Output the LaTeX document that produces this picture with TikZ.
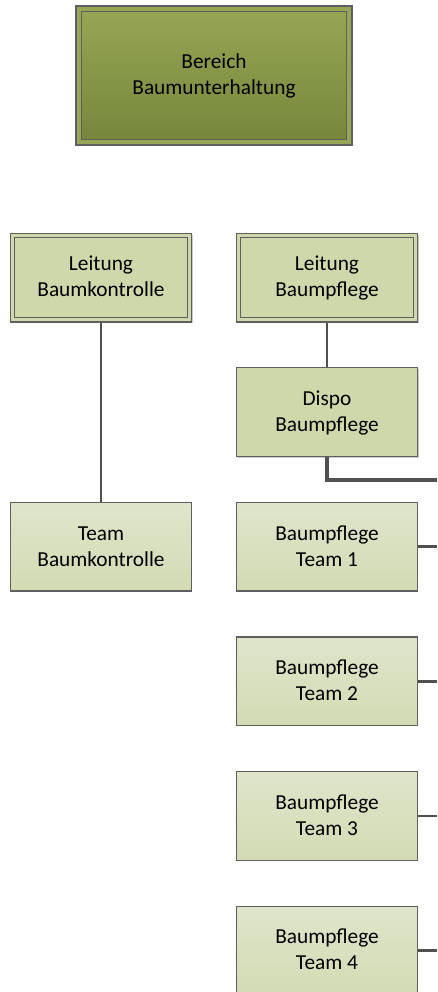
\documentclass[tikz,border=0pt]{standalone}
\usepackage{fontspec}
\setmainfont{Carlito}
\usetikzlibrary{positioning, shadows}
\definecolor{oliveTop}{RGB}{150,166,84}
\definecolor{oliveBot}{RGB}{118,135,60}
\definecolor{leitFill}{RGB}{207,216,170}
\definecolor{teamTop}{RGB}{223,229,202}
\definecolor{teamBot}{RGB}{211,219,180}
\definecolor{frame}{RGB}{95,95,95}
\definecolor{wire}{RGB}{80,80,80}
\tikzset{
	unit/.style={rectangle, draw=frame, line width=1pt, minimum width=135.5pt, minimum height=66.5pt, align=center, inner sep=0pt, font=\fontsize{16}{19.5}\selectfont, execute at begin node=\rule{0pt}{35pt}, execute at end node=\strut},
	headbox/.style={unit, minimum width=203pt, minimum height=100.25pt, top color=oliveTop, bottom color=oliveBot, drop shadow={shadow xshift=2.5pt, shadow yshift=-2.5pt, fill=black!12, opacity=1}, double=oliveTop, double distance=3pt},
	leitbox/.style={unit, fill=leitFill, drop shadow={shadow xshift=1pt, shadow yshift=-1pt, fill=black!20, opacity=1}},
	teambox/.style={unit, top color=teamTop, bottom color=teamBot},
	link/.style={draw=wire, line width=1.5pt},
	busline/.style={draw=wire, line width=2.4pt}
}
\begin{document}
\begin{tikzpicture}[x=0.75pt, y=-0.75pt, node distance=33.45pt and 33pt]
		\useasboundingbox (0,0) rectangle (437,992);
		
		\node[headbox] (bereich) at (214,75.5) {Bereich\\Baumunterhaltung};
		
		\node[leitbox] (lbk) at (101,277.5) {Leitung\\Baumkontrolle};
		\draw[frame, line width=0.8pt] ([shift={(3.5pt,-3.5pt)}]lbk.north west) rectangle ([shift={(-3.5pt,3.5pt)}]lbk.south east);
		
		\node[leitbox, right = of lbk] (lpf) {Leitung\\Baumpflege};
		\draw[frame, line width=0.8pt] ([shift={(3.5pt,-3.5pt)}]lpf.north west) rectangle ([shift={(-3.5pt,3.5pt)}]lpf.south east);
		
		\node[leitbox, below = of lpf] (dispo) {Dispo\\Baumpflege};
		
		\node[teambox, below = of dispo] (team1) {Baumpflege\\Team 1};
		\node[teambox, below = of team1] (team2) {Baumpflege\\Team 2};
		\node[teambox, below = of team2] (team3) {Baumpflege\\Team 3};
		\node[teambox, below = of team3] (team4) {Baumpflege\\Team 4};
		
		\node[teambox, left = of team1] (tbk) {Team\\Baumkontrolle};
		
		\coordinate (rail) at (437,480);
		
		\draw[link] (lbk) -- (tbk);
		\draw[link] (lpf) -- (dispo);
		\draw[busline] (dispo.south) |- (rail);
		
		\foreach \t in {team1, team2, team3, team4}
			\draw[busline, line width=2pt] (\t.east) -- (\t.east -| rail);
		
	\end{tikzpicture}
\end{document}
